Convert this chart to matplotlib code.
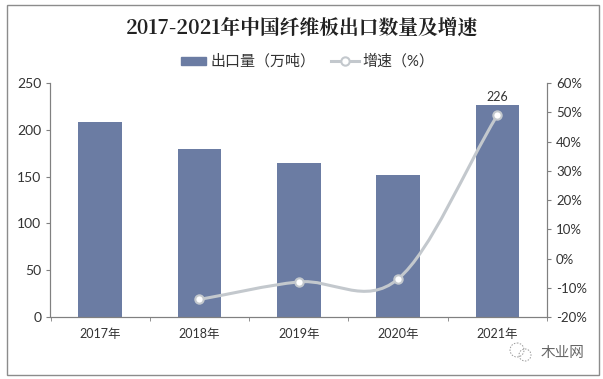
import matplotlib
matplotlib.use('Agg')
import matplotlib.pyplot as plt
from matplotlib.path import Path
from matplotlib.patches import PathPatch, Rectangle, Circle
from matplotlib.lines import Line2D
import numpy as np

plt.rcParams['font.family'] = ['Lato', 'Noto Sans CJK SC', 'DejaVu Sans']

years = ['2017年', '2018年', '2019年', '2020年', '2021年']
export = [208, 179, 164, 152, 226]
growth_pos = [1, 2, 3, 4]
growth = [-14, -8, -7, 49]

BAR = '#6b7ca3'
LINE = '#c3c8cd'
TXT = '#333333'
AXC = '#808080'
W, H = 603, 379

def fx(px):
    return px / W

def fy(px):
    return 1 - px / H

# same kind of smoothing excel does on a line series
def smooth_path(xs, ys):
    xs, ys = np.array(xs, float), np.array(ys, float)
    sx = np.gradient(xs)
    sy = np.gradient(ys)
    verts = [(xs[0], ys[0])]
    codes = [Path.MOVETO]
    for i in range(len(xs) - 1):
        verts += [(xs[i] + sx[i] / 3, ys[i] + sy[i] / 3),
                  (xs[i + 1] - sx[i + 1] / 3, ys[i + 1] - sy[i + 1] / 3),
                  (xs[i + 1], ys[i + 1])]
        codes += [Path.CURVE4] * 3
    return Path(verts, codes)

fig = plt.figure(figsize=(W / 100, H / 100), dpi=100)
ax = fig.add_axes([fx(50.5), fy(317), (547 - 50.5) / W, (317 - 83) / H])
x = np.arange(len(years))
ax.bar(x, export, width=0.44, color=BAR)
ax.set_xlim(-0.5, 4.5)
ax.set_ylim(0, 250)
ax.set_xticks(x, years, fontsize=9)
ax.set_xticks(np.arange(-0.5, 5), minor=True)
ax.set_yticks(range(0, 251, 50))
ax.tick_params(axis='y', labelsize=10, length=3, color=AXC, labelcolor=TXT)
ax.tick_params(axis='x', which='major', length=0, pad=8, labelcolor=TXT)
ax.tick_params(axis='x', which='minor', length=3, color=AXC)
ax.text(x[-1], export[-1] + 3, str(export[-1]), ha='center', va='bottom', fontsize=9, color=TXT)

ax2 = ax.twinx()
ax2.set_ylim(-20, 60)
ax2.set_yticks(range(-20, 61, 10), [f'{v}%' for v in range(-20, 61, 10)])
ax2.tick_params(axis='y', labelsize=9.5, length=3, color=AXC, labelcolor=TXT)
ax2.add_patch(PathPatch(smooth_path(growth_pos, growth), fc='none', ec=LINE, lw=2.2))
ax2.plot(growth_pos, growth, ls='none', marker='o', ms=6, mfc='white', mec=LINE, mew=1.5)

for a in (ax, ax2):
    a.spines['top'].set_visible(False)
    for s in ('left', 'right', 'bottom'):
        a.spines[s].set_color(AXC)

fig.text(0.5, fy(28), '2017-2021年中国纤维板出口数量及增速', ha='center', va='center',
         fontsize=14.2, fontweight='bold', family=['Noto Serif CJK SC', 'Noto Sans CJK SC', 'DejaVu Serif'], color='#222222')

# legend
fig.add_artist(Rectangle((fx(181), fy(65)), 25 / W, 8 / H, transform=fig.transFigure, color=BAR))
fig.text(fx(210), fy(61), '出口量（万吨）', fontsize=10.8, va='center', color=TXT)
fig.add_artist(Line2D([fx(331), fx(359)], [fy(61)] * 2, color=LINE, lw=2.2))
fig.add_artist(Line2D([fx(345)], [fy(61)], ls='none', marker='o', ms=6, mfc='white', mec=LINE, mew=1.5))
fig.text(fx(362), fy(61), '增速（%）', fontsize=10.8, va='center', color=TXT)

# outer frame and watermark
fig.add_artist(Rectangle((fx(7), fy(375)), 592 / W, 370 / H, transform=fig.transFigure,
                         fill=False, ec='#8c8c8c', lw=1))
fig.text(fx(563), fy(353), '木业网', fontsize=10.5, ha='center', va='center', color='#666666')
wm = fig.add_axes([fx(508), fy(364), 26 / W, 24 / H])
wm.set_xlim(0, 26)
wm.set_ylim(24, 0)
wm.axis('off')
wm.add_patch(Circle((9, 10), 7, fill=False, ec='#999999', lw=0.7, ls=(0, (1.5, 1.5))))
wm.add_patch(Circle((17, 15), 6, fill=False, ec='#999999', lw=0.7, ls=(0, (1.5, 1.5))))

fig.savefig('out.png', dpi=100)
